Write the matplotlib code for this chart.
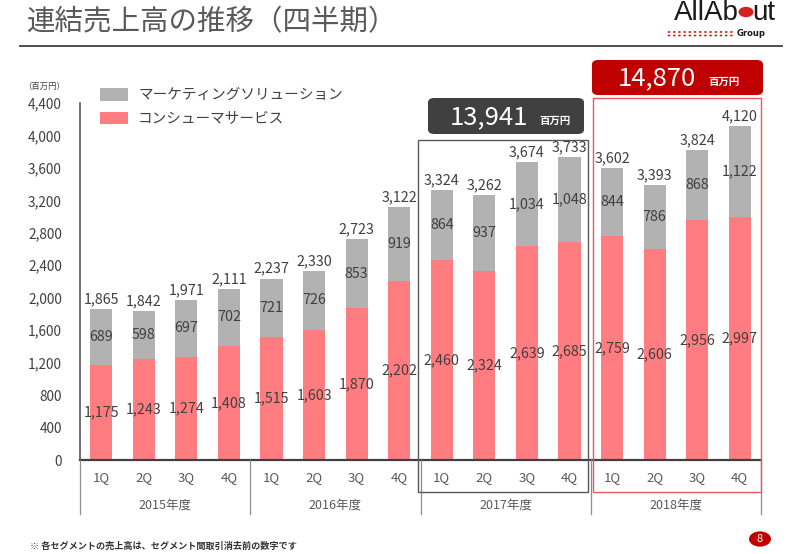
import matplotlib
matplotlib.use("Agg")
import matplotlib.pyplot as plt
import matplotlib.transforms as mtransforms
from matplotlib.patches import Rectangle, FancyBboxPatch, Circle
from matplotlib.lines import Line2D

plt.rcParams["font.family"] = ["Noto Sans CJK JP", "DejaVu Sans"]

# Data (百万円)
quarters = ["1Q", "2Q", "3Q", "4Q"] * 4
years = ["2015年度", "2016年度", "2017年度", "2018年度"]
consumer = [1175, 1243, 1274, 1408, 1515, 1603, 1870, 2202,
            2460, 2324, 2639, 2685, 2759, 2606, 2956, 2997]
marketing = [689, 598, 697, 702, 721, 726, 853, 919,
             864, 937, 1034, 1048, 844, 786, 868, 1122]
totals = [1865, 1842, 1971, 2111, 2237, 2330, 2723, 3122,
          3324, 3262, 3674, 3733, 3602, 3393, 3824, 4120]
year_totals = {"2017年度": "13,941", "2018年度": "14,870"}
yticks = list(range(0, 4401, 400))

RED = "#FF7C80"
GRAY = "#B2B2B2"
TXT = "#404040"

W, H = 800, 554
def fx(p):
    return p / W
def fy(p):
    return 1 - p / H

fig = plt.figure(figsize=(W / 100, H / 100), dpi=100)
ax = fig.add_axes([fx(80), fy(460), fx(761) - fx(80), fy(103) - fy(460)])

x = list(range(len(consumer)))
ax.bar(x, consumer, width=0.52, color=RED, zorder=2)
ax.bar(x, marketing, width=0.52, bottom=consumer, color=GRAY, zorder=2)

for i in x:
    ax.text(i, consumer[i] / 2, f"{consumer[i]:,}", ha="center", va="center",
            fontsize=10.3, color=TXT, zorder=3)
    ax.text(i, consumer[i] + marketing[i] / 2, f"{marketing[i]:,}", ha="center",
            va="center", fontsize=10.3, color=TXT, zorder=3)
    ax.text(i, totals[i] + 120, f"{totals[i]:,}", ha="center", va="center",
            fontsize=10.3, color=TXT, zorder=3)

ax.set_xlim(-0.5, 15.5)
ax.set_ylim(0, 4400)
ax.set_yticks(yticks)
ax.set_yticklabels([f"{v:,}" for v in yticks], fontsize=9.8, color=TXT)
ax.set_xticks([])
ax.tick_params(axis="y", length=0, pad=13)
for s in ["top", "right"]:
    ax.spines[s].set_visible(False)
ax.spines["left"].set_color("#595959")
ax.spines["left"].set_linewidth(1.2)
ax.spines["bottom"].set_color("#404040")
ax.spines["bottom"].set_linewidth(1.6)

fig.text(fx(65), fy(86), "（百万円）", ha="right", va="center", fontsize=6, color=TXT)

# x axis labels below
bt = mtransforms.blended_transform_factory(ax.transData, fig.transFigure)
for i, q in enumerate(quarters):
    fig.text(i, fy(478), q, transform=bt, ha="center", va="center",
             fontsize=9.5, color="#595959")
for g, yl in enumerate(years):
    fig.text(g * 4 + 1.5, fy(505), yl, transform=bt, ha="center", va="center",
             fontsize=9, color="#595959")
for b in [-0.5, 3.5, 7.5, 11.5, 15.5]:
    fig.add_artist(Line2D([b, b], [fy(460), fy(514)], transform=bt,
                          color="#8C8C8C", lw=0.9))

# highlight boxes
fig.add_artist(Rectangle((7.45, fy(492)), 11.43 - 7.45, fy(140) - fy(492),
                         transform=bt, fill=False, ec="#595959", lw=1.0, zorder=5))
fig.add_artist(Rectangle((11.56, fy(492)), 15.5 - 11.56, fy(98) - fy(492),
                         transform=bt, fill=False, ec="#E8585C", lw=1.0, zorder=5))

# year total label boxes
fig.add_artist(FancyBboxPatch((fx(428), fy(134)), fx(584) - fx(428), fy(98) - fy(134),
                              boxstyle="round,pad=0,rounding_size=0.008",
                              transform=fig.transFigure, fc="#404040", ec="none"))
fig.text(fx(489), fy(117), year_totals["2017年度"], ha="center", va="center",
         fontsize=18.5, color="white")
fig.text(fx(555), fy(121), "百万円", ha="center", va="center",
         fontsize=7.5, color="white", fontweight="bold")
fig.add_artist(FancyBboxPatch((fx(592), fy(95)), fx(763) - fx(592), fy(60) - fy(95),
                              boxstyle="round,pad=0,rounding_size=0.008",
                              transform=fig.transFigure, fc="#C00000", ec="none"))
fig.text(fx(657), fy(78), year_totals["2018年度"], ha="center", va="center",
         fontsize=18.5, color="white")
fig.text(fx(724), fy(82), "百万円", ha="center", va="center",
         fontsize=7.5, color="white", fontweight="bold")

# legend
fig.add_artist(Rectangle((fx(100), fy(101)), fx(128) - fx(100), fy(88) - fy(101),
                         transform=fig.transFigure, fc=GRAY, ec="none"))
fig.text(fx(138), fy(95), "マーケティングソリューション", ha="left", va="center",
         fontsize=10.5, color=TXT)
fig.add_artist(Rectangle((fx(100), fy(124)), fx(128) - fx(100), fy(112) - fy(124),
                         transform=fig.transFigure, fc=RED, ec="none"))
fig.text(fx(138), fy(118), "コンシューマサービス", ha="left", va="center",
         fontsize=10.5, color=TXT)

# title and rule
fig.text(fx(27), fy(22), "連結売上高の推移（四半期）", ha="left", va="center",
         fontsize=20.5, color="#595959")
fig.add_artist(Line2D([fx(20), fx(782)], [fy(46), fy(46)], transform=fig.transFigure,
                      color="#404040", lw=1.3))

# logo
logo_font = ["Liberation Sans Narrow", "Liberation Sans"]
fig.text(fx(739), fy(13), "AllAb", ha="right", va="center", fontsize=20,
         family=logo_font, color="#1A1A1A")
fig.add_artist(Circle((fx(746), fy(12)), 7.5 / W, transform=fig.transFigure,
                      fc="#D42020", ec="none"))
fig.text(fx(752), fy(13), "ut", ha="left", va="center", fontsize=20,
         family=logo_font, color="#1A1A1A")
for r in range(2):
    for k in range(13):
        fig.add_artist(Circle((fx(669 + k * 5.2), fy(32 + r * 3.5)), 0.0017,
                              transform=fig.transFigure, fc="#D42020", ec="none"))
fig.text(fx(737), fy(34), "Group", ha="left", va="center", fontsize=6,
         family="DejaVu Sans", fontweight="bold", color="#1A1A1A")

# footnote and page badge
fig.text(fx(30), fy(546), "※ 各セグメントの売上高は、セグメント間取引消去前の数字です",
         ha="left", va="center", fontsize=6.6, color="#333333", fontweight="bold")
fig.add_artist(Circle((fx(760), fy(539)), 11 / W, transform=fig.transFigure,
                      fc="#C00000", ec="none"))
fig.text(fx(760), fy(539), "8", ha="center", va="center", fontsize=8, color="white")

fig.savefig("out.png", dpi=100)
